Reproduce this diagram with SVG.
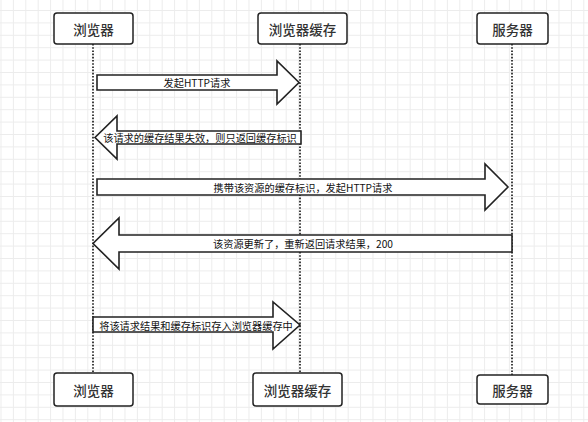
<svg xmlns="http://www.w3.org/2000/svg" width="588" height="422" viewBox="0 0 588 422">
<defs>
<pattern id="grid" width="12.4" height="12.4" patternUnits="userSpaceOnUse" x="0.5" y="10">
<path d="M0 0.5H12.4M0.5 0V12.4" fill="none" stroke="#ececec" stroke-width="1"/>
</pattern>
<style>
.box{fill:#fff;stroke:#222;stroke-width:1.5}
.bt{font-family:"Noto Sans CJK SC","Noto Sans",sans-serif;font-size:13.5px;font-weight:500;fill:#333;text-anchor:middle;dominant-baseline:central}
.life{stroke:#111;stroke-width:1.6;stroke-dasharray:1.6 1.6;fill:none}
.arr{fill:#fff;stroke:#222;stroke-width:1.6;stroke-linejoin:miter}
.at{font-family:"Noto Sans CJK SC","Noto Sans",sans-serif;font-size:10.2px;fill:#111;text-anchor:middle;dominant-baseline:central}
</style>
</defs>
<rect width="588" height="422" fill="#fff"/>
<rect width="588" height="422" fill="url(#grid)"/>
<g id="lifelines">
<line class="life" x1="93" y1="44" x2="93" y2="373"/>
<line class="life" x1="300" y1="44" x2="300" y2="373"/>
<line class="life" x1="512" y1="44" x2="512" y2="375"/>
</g>
<g id="browser-top"><rect class="box" x="54" y="13" width="79" height="31" rx="3"/><text class="bt" x="93.5" y="28.5">浏览器</text></g>
<g id="cache-top"><rect class="box" x="258" y="13" width="89" height="31" rx="3"/><text class="bt" x="302.5" y="28.5">浏览器缓存</text></g>
<g id="server-top"><rect class="box" x="477" y="13" width="71" height="31" rx="3"/><text class="bt" x="512.5" y="28.5">服务器</text></g>
<g id="browser-bottom"><rect class="box" x="54" y="373" width="79" height="33" rx="3"/><text class="bt" x="93.5" y="389.5">浏览器</text></g>
<g id="cache-bottom"><rect class="box" x="253" y="373" width="89" height="33" rx="3"/><text class="bt" x="297.5" y="389.5">浏览器缓存</text></g>
<g id="server-bottom"><rect class="box" x="477" y="375" width="71" height="29" rx="3"/><text class="bt" x="512.5" y="389.5">服务器</text></g>
<g id="connectors">
<g id="m1"><polygon class="arr" points="97,75 277,75 277,61 299,82.5 277,104 277,90 97,90"/><text class="at" x="197" y="82.5">发起HTTP请求</text></g>
<g id="m2"><polygon class="arr" points="301,131 117,131 117,116 95,137.5 117,159 117,144 301,144"/><text class="at" x="200" y="137.5">该请求的缓存结果失效，则只返回缓存标识</text></g>
<g id="m3"><polygon class="arr" points="97,179 485,179 485,164 508,187 485,210 485,195 97,195"/><text class="at" x="303" y="187">携带该资源的缓存标识，发起HTTP请求</text></g>
<g id="m4"><polygon class="arr" points="512,235 119,235 119,218 93,243.5 119,269 119,252 512,252"/><text class="at" x="303" y="243.5">该资源更新了，重新返回请求结果，200</text></g>
<g id="m5"><polygon class="arr" points="93,317 273,317 273,302 300,325 273,349 273,332 93,332"/><text class="at" x="196" y="325">将该请求结果和缓存标识存入浏览器缓存中</text></g>
</g>
</svg>
